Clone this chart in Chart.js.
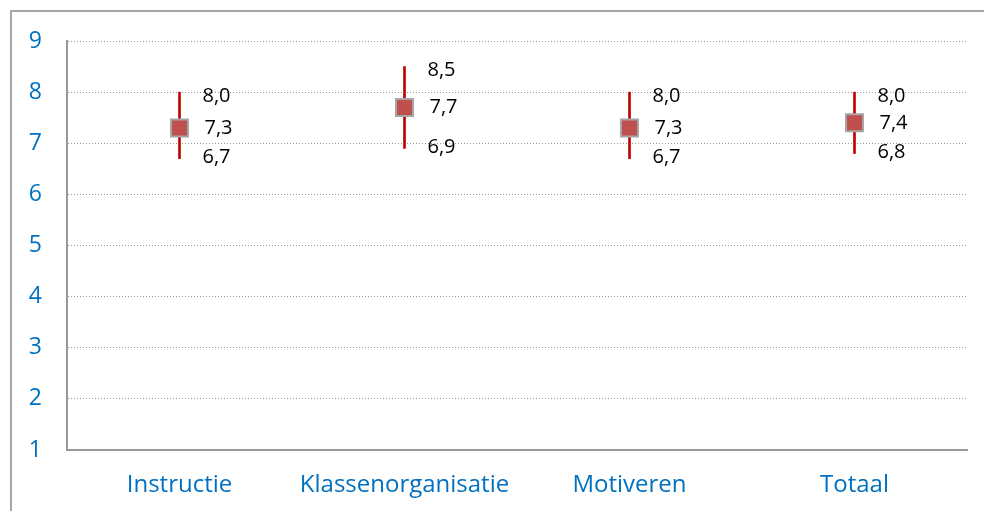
<!DOCTYPE html>
<html>
<head>
<meta charset="utf-8">
<script src="https://cdn.jsdelivr.net/npm/chart.js@4"></script>
<style>
  html, body { margin: 0; padding: 0; background: #fff; overflow: hidden; }
  #wrap { position: relative; width: 984px; height: 511px; }
  #frame {
    position: absolute; left: 10px; top: 10px; width: 1000px; height: 1000px;
    border-left: 2px solid #a6a6a6; border-top: 2px solid #a6a6a6;
  }
  #chart { position: absolute; left: 0; top: 0; }
</style>
</head>
<body>
<div id="wrap">
  <div id="frame"></div>
  <canvas id="chart" width="984" height="511"></canvas>
</div>
<script>
// data
const categories = ['Instructie', 'Klassenorganisatie', 'Motiveren', 'Totaal'];
const means = [7.3, 7.7, 7.3, 7.4];
const upper = [8.0, 8.5, 8.0, 8.0];
const lower = [6.7, 6.9, 6.7, 6.8];

const blue = '#0070c0';
const fontFam = '"Open Sans", Lato, sans-serif';

const fmt = v => v.toFixed(1).replace('.', ',');

// writes the upper, mean and lower values next to each error bar
const valueLabels = {
    id: 'valueLabels',
    afterDatasetsDraw(chart) {
        const { ctx, scales: { x, y } } = chart;
        ctx.save();
        ctx.fillStyle = '#000';
        ctx.font = `20px ${fontFam}`;
        ctx.textAlign = 'left';
        ctx.textBaseline = 'middle';
        categories.forEach((c, i) => {
            const px = x.getPixelForValue(i);
            ctx.fillText(fmt(upper[i]), px + 23, y.getPixelForValue(upper[i]) + 4);
            ctx.fillText(fmt(means[i]), px + 25, y.getPixelForValue(means[i]));
            ctx.fillText(fmt(lower[i]), px + 23, y.getPixelForValue(lower[i]) - 1);
        });
        ctx.restore();
    }
};

const ctx = document.getElementById('chart').getContext('2d');
const chart = new Chart(ctx, {
    type: 'bar',
    data: {
        labels: categories,
        datasets: [
            {
                type: 'line',
                label: 'Gemiddelde',
                data: means,
                showLine: false,
                pointStyle: 'rect',
                pointRadius: 12,
                pointBackgroundColor: '#c0504d',
                pointBorderColor: '#a6a6a6',
                pointBorderWidth: 2,
                order: 0,
            },
            {
                label: 'Bereik',
                data: categories.map((c, i) => [lower[i], upper[i]]),
                backgroundColor: '#c00000',
                barThickness: 2,
                borderWidth: 0,
                order: 1,
            },
        ],
    },
    options: {
        responsive: false,
        animation: false,
        layout: {
            padding: { top: 41, right: 17, left: 0, bottom: 0 },
        },
        plugins: {
            legend: { display: false },
            tooltip: { enabled: false },
        },
        scales: {
            x: {
                grid: { display: false, drawTicks: false },
                border: { display: true, color: '#999', width: 2 },
                ticks: {
                    color: blue,
                    padding: 21,
                    font: { family: fontFam, size: 24 },
                },
                afterFit: (scale) => { scale.height = 61; },
            },
            y: {
                min: 1,
                max: 9,
                grid: { color: '#999', lineWidth: 1, drawTicks: false },
                border: { display: true, color: '#999', width: 2, dash: [1, 2] },
                ticks: {
                    stepSize: 1,
                    color: blue,
                    padding: 25,
                    font: { family: fontFam, size: 23 },
                },
                afterFit: (scale) => { scale.width = 67; },
            },
        },
    },
    plugins: [valueLabels],
});
</script>
</body>
</html>
